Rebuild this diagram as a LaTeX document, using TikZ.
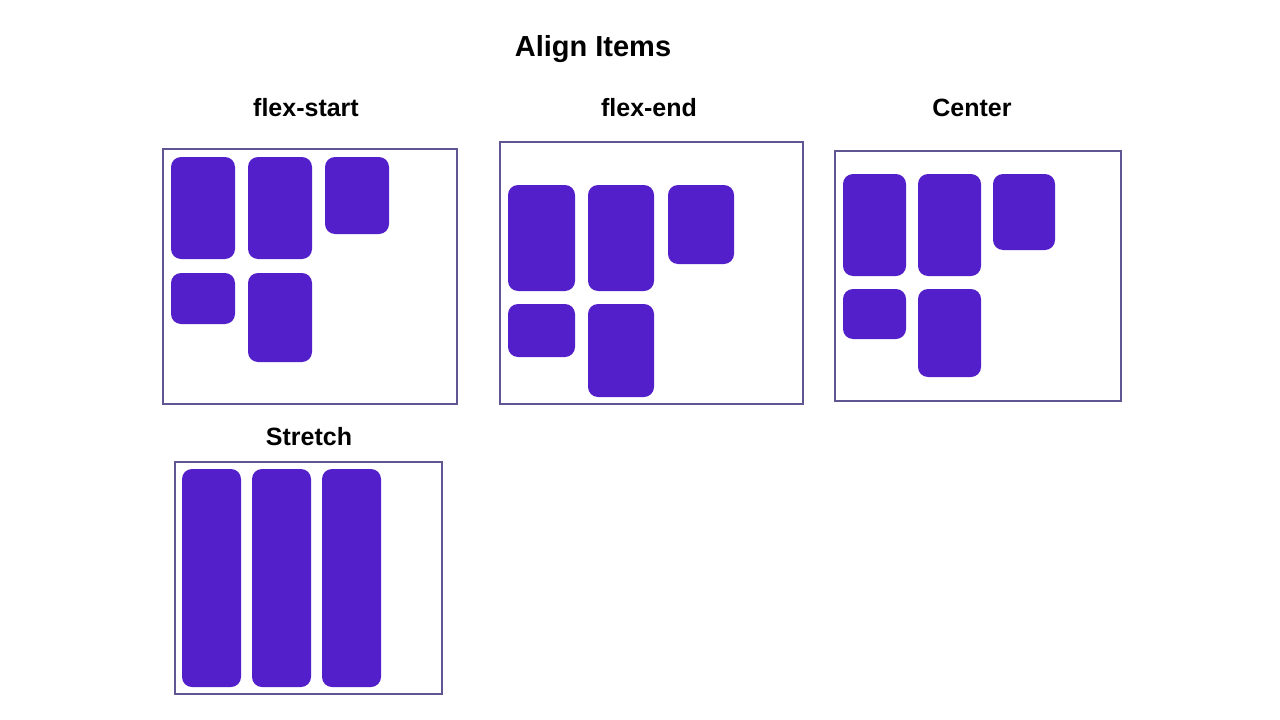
\documentclass[tikz,border=0pt]{standalone}
\usepackage{fontspec}
\setmainfont{Liberation Sans}
\usetikzlibrary{calc}
\definecolor{itemfill}{HTML}{531FCB}
\definecolor{framecol}{HTML}{5F5693}

\begin{document}
\begin{tikzpicture}[x=1pt,y=-1pt,
    frame/.style={draw=framecol, line width=2.3pt},
    item/.style={fill=itemfill, rounded corners=10pt},
    heading/.style={anchor=base, font=\bfseries\fontsize{25}{30}\selectfont}]
    \useasboundingbox (0,0) rectangle (1280,720);
    \node[anchor=base, font=\bfseries\fontsize{29}{34}\selectfont] (title) at (593,56.5) {Align Items};
    % flex-start
    \node[heading] (start) at (306,116) {flex-start};
    \draw[frame] (163,149) rectangle (457,404);
    \foreach \xa/\ya/\xb/\yb in {171/157/235/259, 248/157/312/259, 325/157/389/234, 171/273/235/324, 248/273/312/362}
        \fill[item] (\xa,\ya) rectangle (\xb,\yb);
    % flex-end
    \node[heading] (end) at (649,116) {flex-end};
    \draw[frame] (500,142) rectangle (803,404);
    \foreach \xa/\ya/\xb/\yb in {508/185/575/291, 588/185/654/291, 668/185/734/264, 508/304/575/357, 588/304/654/397}
        \fill[item] (\xa,\ya) rectangle (\xb,\yb);
    % center
    \node[heading] (center) at (972,116) {Center};
    \draw[frame] (835,151) rectangle (1121,401);
    \foreach \xa/\ya/\xb/\yb in {843/174/906/276, 918/174/981/276, 993/174/1055/250, 843/289/906/339, 918/289/981/377}
        \fill[item] (\xa,\ya) rectangle (\xb,\yb);
    % stretch
    \node[heading] (stretch) at (309,445) {Stretch};
    \draw[frame] (175,462) rectangle (442,694);
    \foreach \xa in {182,252,322}
        \fill[item] (\xa,469) rectangle ($(\xa,687)+(59,0)$);
\end{tikzpicture}
\end{document}
